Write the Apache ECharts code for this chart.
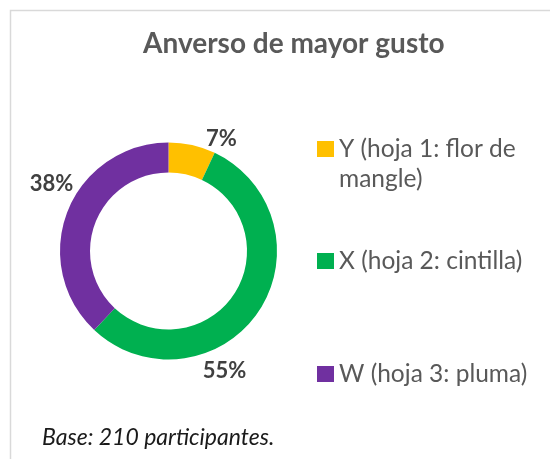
<!DOCTYPE html>
<html>
<head>
<meta charset="utf-8">
<script src="https://cdn.jsdelivr.net/npm/echarts@6/dist/echarts.min.js"></script>
<style>
html,body{margin:0;padding:0;background:#fff;}
#main{width:550px;height:459px;}
</style>
</head>
<body>
<div id="main"></div>
<script>
var categories = ['Y (hoja 1: flor de mangle)', 'X (hoja 2: cintilla)', 'W (hoja 3: pluma)'];
var legendLabels = ['\nY (hoja 1: flor de\nmangle)', 'X (hoja 2: cintilla)', 'W (hoja 3: pluma)'];
var values = [7, 55, 38];
var colors = ['#FFC000', '#00B050', '#7030A0'];
var titleText = 'Anverso de mayor gusto';
var footnote = 'Base: 210 participantes.';

var FONT = 'Lato';
var chart = echarts.init(document.getElementById('main'), null, {renderer: 'canvas'});

var data = categories.map(function (c, i) {
  return {name: c, value: values[i], itemStyle: {color: colors[i]}};
});

var legendTops = [104, 246, 359];
var legends = categories.map(function (c, i) {
  return {
    data: [c],
    left: 317,
    top: legendTops[i],
    orient: 'vertical',
    icon: 'rect',
    itemWidth: 17,
    itemHeight: 16,
    itemGap: 0,
    padding: 0,
    selectedMode: false,
    formatter: function () { return legendLabels[i]; },
    textStyle: {
      fontFamily: FONT,
      fontSize: 24.5,
      color: '#595959',
      lineHeight: 30
    }
  };
});

var labelShift = [[7, 2], [-67, 54], [18, -24]];

chart.setOption({
  animation: false,
  graphic: [{
    type: 'rect',
    shape: {x: 10.5, y: 10.5, width: 600, height: 600},
    style: {fill: null, stroke: '#D9D9D9', lineWidth: 1.5},
    silent: true
  }],
  title: [{
    text: titleText,
    left: 143,
    top: 27,
    padding: 0,
    textStyle: {fontFamily: FONT, fontSize: 28, lineHeight: 34, fontWeight: 'bold', color: '#595959'}
  }, {
    text: footnote,
    left: 42,
    top: 424,
    padding: 0,
    textStyle: {fontFamily: FONT, fontSize: 23, lineHeight: 28, fontStyle: 'italic', fontWeight: 'normal', color: '#1a1a1a'}
  }],
  legend: legends,
  series: [{
    type: 'pie',
    center: [168.5, 251],
    radius: [78.5, 108.5],
    startAngle: 90,
    clockwise: true,
    avoidLabelOverlap: false,
    label: {
      show: true,
      position: 'outside',
      formatter: '{c}%',
      fontFamily: FONT,
      fontSize: 22,
      fontWeight: 'bold',
      color: '#404040'
    },
    labelLine: {show: false, length: 8, length2: 0},
    labelLayout: function (p) {
      var s = labelShift[p.dataIndex];
      return {dx: s[0], dy: s[1]};
    },
    itemStyle: {borderWidth: 0},
    emphasis: {disabled: true},
    data: data
  }]
});
</script>
</body>
</html>
